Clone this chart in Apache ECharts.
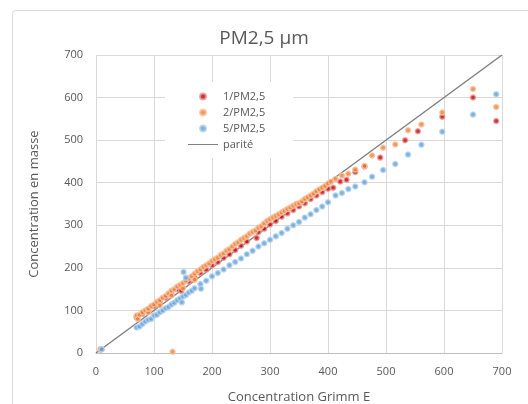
<!DOCTYPE html>
<html>
<head>
<meta charset="utf-8">
<script src="https://cdn.jsdelivr.net/npm/echarts@6/dist/echarts.min.js"></script>
<style>
  html, body { margin: 0; padding: 0; background: #fff; }
  #main { width: 528px; height: 404px; }
</style>
</head>
<body>
<div id="main"></div>
<script>
// valeurs (x = Grimm E, y = masse)
var serie1 = [
  [8, 8], [70, 84], [80, 92], [90, 100], [100, 110], [110, 120], [120, 130], [130, 140],
  [140, 150], [147, 146], [160, 168], [170, 178], [180, 188], [190, 196], [200, 206],
  [210, 214], [220, 224], [230, 232], [240, 242], [250, 252], [260, 262], [277, 270],
  [280, 284], [290, 292], [300, 302], [310, 310], [320, 320], [330, 328], [340, 336],
  [350, 344], [360, 352], [370, 362], [380, 370], [390, 378], [400, 386], [409, 388],
  [421, 403], [432, 407], [447, 425], [463, 438], [490, 459], [533, 500], [555, 521],
  [597, 555], [650, 600], [690, 545]
];
var serie2 = [
  [8, 9], [70, 88], [72, 80], [75, 90], [80, 96], [85, 100], [90, 95], [90, 104], [95, 110],
  [100, 114], [105, 120], [110, 112], [110, 124], [115, 130], [120, 134], [125, 140],
  [130, 135], [130, 146], [135, 150], [140, 156], [145, 160], [150, 152], [150, 164],
  [155, 170], [160, 175], [165, 180], [170, 172], [170, 186], [175, 192], [180, 196],
  [185, 202], [190, 206], [195, 210], [200, 216], [205, 220], [210, 224], [215, 230],
  [220, 234], [225, 240], [230, 244], [235, 250], [240, 256], [245, 260], [250, 266],
  [255, 270], [260, 274], [265, 280], [270, 284], [275, 288], [280, 294], [285, 298],
  [290, 304], [295, 310], [300, 314], [305, 318], [310, 322], [315, 326], [320, 330],
  [325, 334], [330, 338], [335, 342], [340, 346], [345, 350], [350, 352], [355, 356],
  [360, 362], [365, 366], [370, 370], [375, 374], [380, 380], [385, 384], [390, 388],
  [395, 392], [400, 398], [405, 402], [413, 409], [424, 417], [435, 421], [447, 431],
  [463, 439], [476, 464], [495, 482], [516, 490], [538, 523], [561, 537], [597, 565],
  [650, 620], [690, 578], [132, 3]
];
var serie5 = [
  [10, 9], [70, 60], [75, 62], [80, 68], [85, 74], [90, 78], [95, 80], [100, 88],
  [105, 90], [110, 96], [115, 100], [120, 105], [125, 108], [130, 114], [135, 118],
  [140, 124], [145, 128], [148, 119], [150, 133], [151, 190], [155, 136], [155, 177],
  [160, 142], [165, 146], [170, 152], [180, 162], [181, 151], [190, 170], [200, 180],
  [210, 188], [220, 196], [230, 206], [240, 214], [250, 222], [260, 232], [270, 240],
  [280, 250], [290, 258], [300, 266], [310, 274], [320, 282], [330, 292], [340, 300],
  [350, 308], [360, 318], [370, 326], [380, 336], [390, 344], [400, 354], [413, 370],
  [424, 376], [435, 385], [447, 391], [463, 401], [476, 414], [495, 430], [516, 444],
  [538, 466], [561, 489], [597, 520], [650, 560], [690, 608]
];
var parite = [[0, 0], [700, 700]];
var axisTicks = [0, 100, 200, 300, 400, 500, 600, 700];

var txt = '#595959';
var font = 'Open Sans';
// trait fin pour la légende "parité" (les petits triangles fixent la hauteur de la boîte)
var lineIcon = 'path://M0,0L30,0L30,0.01Z M0,2.5L30,2.5L30,3.5L0,3.5Z M0,6L30,6L30,5.99Z';

var chart = echarts.init(document.getElementById('main'));
chart.setOption({
  backgroundColor: '#fff',
  animation: false,
  graphic: [{
    type: 'rect',
    shape: { x: 12.5, y: 10.5, width: 540, height: 420, r: 3 },
    style: { fill: 'none', stroke: '#D9D9D9', lineWidth: 1 },
    silent: true
  }],
  title: {
    text: 'PM2,5 µm',
    left: 'center',
    top: 24,
    textStyle: { color: txt, fontFamily: font, fontSize: 19, fontWeight: 'normal' }
  },
  legend: {
    orient: 'vertical',
    left: 165,
    top: 82,
    padding: [9, 28, 8, 23],
    backgroundColor: '#fff',
    itemWidth: 30,
    itemHeight: 6,
    itemGap: 5,
    textStyle: { color: txt, fontFamily: font, fontSize: 11 },
    data: ['1/PM2,5', '2/PM2,5', '5/PM2,5', { name: 'parité', icon: lineIcon }]
  },
  grid: { left: 96, right: 26, top: 55, bottom: 51, containLabel: false, outerBoundsMode: 'none' },
  xAxis: {
    type: 'value',
    min: axisTicks[0], max: axisTicks[axisTicks.length - 1], interval: 100,
    name: 'Concentration Grimm E',
    nameLocation: 'middle',
    nameGap: 38,
    nameTextStyle: { color: txt, fontFamily: font, fontSize: 13 },
    axisLine: { show: true, lineStyle: { color: '#BFBFBF' } },
    axisTick: { show: false },
    axisLabel: { color: txt, fontFamily: font, fontSize: 11, margin: 13 },
    splitLine: { show: true, lineStyle: { color: '#D9D9D9' } }
  },
  yAxis: {
    type: 'value',
    min: axisTicks[0], max: axisTicks[axisTicks.length - 1], interval: 100,
    name: 'Concentration en masse',
    nameLocation: 'middle',
    nameGap: 55,
    nameTextStyle: { color: txt, fontFamily: font, fontSize: 13 },
    axisLine: { show: false },
    axisTick: { show: false },
    axisLabel: { color: txt, fontFamily: font, fontSize: 11, margin: 13 },
    splitLine: { show: true, lineStyle: { color: '#D9D9D9' } }
  },
  series: [
    {
      name: '1/PM2,5', type: 'scatter', z: 3, symbolSize: 5, data: serie1,
      itemStyle: { color: '#C00000', borderColor: '#E99A9A', borderWidth: 1.5 }
    },
    {
      name: '2/PM2,5', type: 'scatter', z: 3, symbolSize: 5, data: serie2,
      itemStyle: { color: '#ED7D31', borderColor: '#F8C3A0', borderWidth: 1.5 }
    },
    {
      name: '5/PM2,5', type: 'scatter', z: 3, symbolSize: 5, data: serie5,
      itemStyle: { color: '#5B9BD5', borderColor: '#B4D2EE', borderWidth: 1.5 }
    },
    {
      name: 'parité', type: 'line', z: 2, symbol: 'none', data: parite,
      lineStyle: { color: '#808080', width: 1.5 },
      itemStyle: { color: '#808080' }
    }
  ]
});
</script>
</body>
</html>
